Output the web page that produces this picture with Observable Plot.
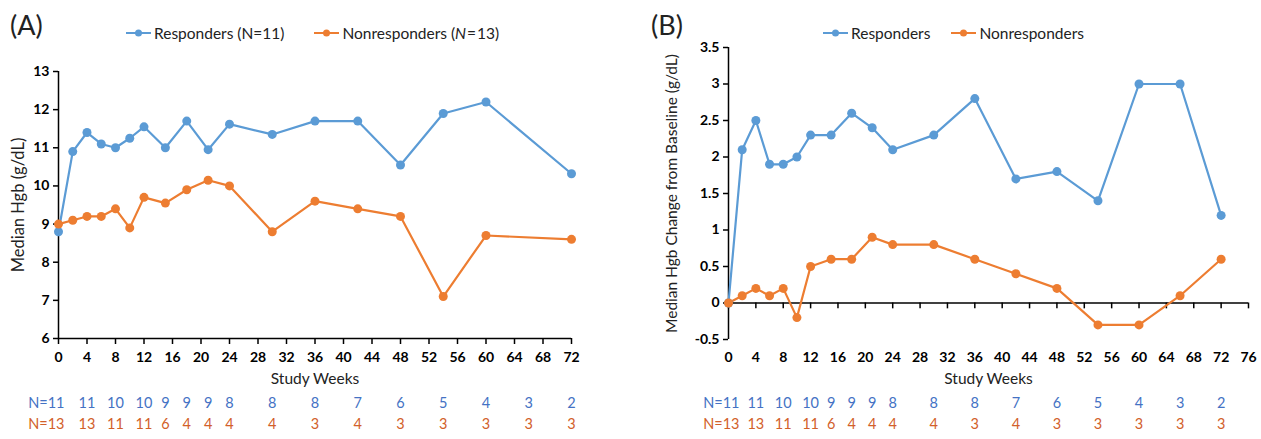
<!DOCTYPE html>
<html>
<head>
<meta charset="utf-8">
<script src="https://cdn.jsdelivr.net/npm/d3@7"></script>
<script src="https://cdn.jsdelivr.net/npm/@observablehq/plot@0.6"></script>
<style>
  html, body { margin: 0; padding: 0; background: #fff; }
  #wrap { position: relative; width: 1261px; height: 439px; font-family: Lato, "Open Sans", sans-serif; color: #222; }
  .panel { position: absolute; top: 0; }
  .tag { position: absolute; font-size: 27px; line-height: 1; top: 11px; }
  .legend { position: absolute; top: 24px; display: flex; align-items: center; font-size: 15.5px; line-height: 18px; }
  .legend .item { display: flex; align-items: center; }
  .legend svg { margin-right: 3px; }
</style>
</head>
<body>
<div id="wrap"></div>
<script>
// ---------- data ----------
const weeksA = [0, 2, 4, 6, 8, 10, 12, 15, 18, 21, 24, 30, 36, 42, 48, 54, 60, 72];
const respondersA = [8.8, 10.9, 11.4, 11.1, 11.0, 11.25, 11.55, 11.0, 11.7, 10.95, 11.62, 11.35, 11.7, 11.7, 10.55, 11.9, 12.2, 10.32];
const nonrespondersA = [9.0, 9.1, 9.2, 9.2, 9.4, 8.9, 9.7, 9.55, 9.9, 10.15, 10.0, 8.8, 9.6, 9.4, 9.2, 7.1, 8.7, 8.6];

const weeksB = [0, 2, 4, 6, 8, 10, 12, 15, 18, 21, 24, 30, 36, 42, 48, 54, 60, 66, 72];
const respondersB = [0, 2.1, 2.5, 1.9, 1.9, 2.0, 2.3, 2.3, 2.6, 2.4, 2.1, 2.3, 2.8, 1.7, 1.8, 1.4, 3.0, 3.0, 1.2];
const nonrespondersB = [0, 0.1, 0.2, 0.1, 0.2, -0.2, 0.5, 0.6, 0.6, 0.9, 0.8, 0.8, 0.6, 0.4, 0.2, -0.3, -0.3, 0.1, 0.6];

const nWeeks = [0, 4, 8, 12, 15, 18, 21, 24, 30, 36, 42, 48, 54, 60, 66, 72];
const nResponders = ["N=11", "11", "10", "10", "9", "9", "9", "8", "8", "8", "7", "6", "5", "4", "3", "2"];
const nNonresponders = ["N=13", "13", "11", "11", "6", "4", "4", "4", "4", "3", "4", "3", "3", "3", "3", "3"];

const xTicksA = d3.range(0, 73, 4);
const xTicksB = d3.range(0, 77, 4);
const yTicksA = [6, 7, 8, 9, 10, 11, 12, 13];
const yTicksB = [-0.5, 0, 0.5, 1, 1.5, 2, 2.5, 3, 3.5];

const BLUE = "#5B9BD5", ORANGE = "#ED7D31";
const NBLUE = "#4472C4", NORANGE = "#D2602A";

function series(weeks, vals, name) { return weeks.map((w, i) => ({week: w, value: vals[i], series: name})); }
const nRows = (labels) => nWeeks.map((w, i) => ({week: w, label: labels[i], first: i === 0}));

function panel(o) {
  const data = [...series(o.weeks, o.resp, "R"), ...series(o.weeks, o.non, "N")];
  const marks = [];
  const tickFont = {fontWeight: "bold", fontSize: 14};
  if (o.zeroAxis) {
    marks.push(Plot.ruleY([0], {stroke: "#000", strokeWidth: 1.5}));
    marks.push(Plot.ruleX(o.xTicks, {x: d => d, y1: 0, y2: -0.08, stroke: "#000", strokeWidth: 1.5}));
    marks.push(Plot.axisX({ticks: o.xTicks, tickSize: 0, tickPadding: 13, ...tickFont, label: null}));
  } else {
    marks.push(Plot.ruleY([o.yDomain[0]], {stroke: "#000", strokeWidth: 1.5}));
    marks.push(Plot.axisX({ticks: o.xTicks, tickSize: 6, tickPadding: 8, strokeWidth: 1.5, ...tickFont, label: null}));
  }
  marks.push(Plot.ruleX([0], {stroke: "#000", strokeWidth: 1.5}));
  marks.push(Plot.axisY({ticks: o.yTicks, tickSize: 5, tickPadding: 4, strokeWidth: 1.5, ...tickFont, label: null, tickFormat: d => String(d)}));
  marks.push(Plot.line(data, {x: "week", y: "value", z: "series", stroke: d => d.series === "R" ? BLUE : ORANGE, strokeWidth: 2.2}));
  marks.push(Plot.dot(data, {x: "week", y: "value", fill: d => d.series === "R" ? BLUE : ORANGE, r: 4.5}));
  marks.push(Plot.text([o.yLabel], {frameAnchor: "left", textAnchor: "middle", dx: o.yLabelDx, rotate: -90, fontSize: o.yLabelSize, fill: "#222"}));
  marks.push(Plot.text(["Study Weeks"], {frameAnchor: "bottom", textAnchor: "middle", dy: o.titleDy, fontSize: 15.5, fill: "#222"}));
  const rows = [[nResponders, o.nDy1, NBLUE], [nNonresponders, o.nDy2, NORANGE]];
  for (const [labels, dy, fill] of rows) {
    const r = nRows(labels);
    marks.push(Plot.text(r.filter(d => !d.first), {x: "week", text: "label", frameAnchor: "bottom", textAnchor: "middle", dy, fill, fontSize: 14.5}));
    marks.push(Plot.text(r.filter(d => d.first), {x: "week", text: "label", frameAnchor: "bottom", textAnchor: "end", dx: o.nFirstDx, dy, fill, fontSize: 14.5}));
  }
  return Plot.plot({
    width: o.width, height: 439,
    marginLeft: o.marginLeft, marginRight: o.marginRight, marginTop: o.marginTop, marginBottom: o.marginBottom,
    style: {fontFamily: "Lato, 'Open Sans', sans-serif", color: "#000", background: "transparent", overflow: "visible"},
    x: {domain: o.xDomain},
    y: {domain: o.yDomain},
    marks
  });
}

const wrap = document.getElementById("wrap");

const A = panel({weeks: weeksA, resp: respondersA, non: nonrespondersA,
  xDomain: [0, 72], yDomain: [6, 13], xTicks: xTicksA, yTicks: yTicksA,
  width: 620, marginLeft: 58, marginRight: 49, marginTop: 71, marginBottom: 101,
  yLabel: "Median Hgb (g/dL)", yLabelSize: 16.5, yLabelDx: -40, titleDy: 45, nDy1: 69, nDy2: 90, nFirstDx: 6, zeroAxis: false});
A.classList.add("panel"); A.style.left = "0px";
wrap.appendChild(A);

const B = panel({weeks: weeksB, resp: respondersB, non: nonrespondersB,
  xDomain: [0, 76], yDomain: [-0.5, 3.5], xTicks: xTicksB, yTicks: yTicksB,
  width: 631, marginLeft: 98, marginRight: 13, marginTop: 47, marginBottom: 100,
  yLabel: "Median Hgb Change from Baseline (g/dL)", yLabelSize: 15.5, yLabelDx: -56, titleDy: 44, nDy1: 68, nDy2: 89, nFirstDx: 11, zeroAxis: true});
B.classList.add("panel"); B.style.left = "630px";
wrap.appendChild(B);

function swatch(color) {
  return `<svg width="25" height="10"><line x1="0" y1="5" x2="25" y2="5" stroke="${color}" stroke-width="2"/><circle cx="12.5" cy="5" r="3.5" fill="${color}"/></svg>`;
}
function addDiv(cls, left, html) {
  const d = document.createElement("div");
  d.className = cls; d.style.left = left + "px"; d.innerHTML = html;
  wrap.appendChild(d);
}
addDiv("tag", 10, "(A)");
addDiv("tag", 651, "(B)");
addDiv("legend", 126, `<span class="item">${swatch(BLUE)}Responders (N=11)</span><span class="item" style="margin-left:30px">${swatch(ORANGE)}Nonresponders (<i>N</i>&#8202;=&#8202;13)</span>`);
addDiv("legend", 823, `<span class="item">${swatch(BLUE)}Responders</span><span class="item" style="margin-left:21px">${swatch(ORANGE)}Nonresponders</span>`);
</script>
</body>
</html>
